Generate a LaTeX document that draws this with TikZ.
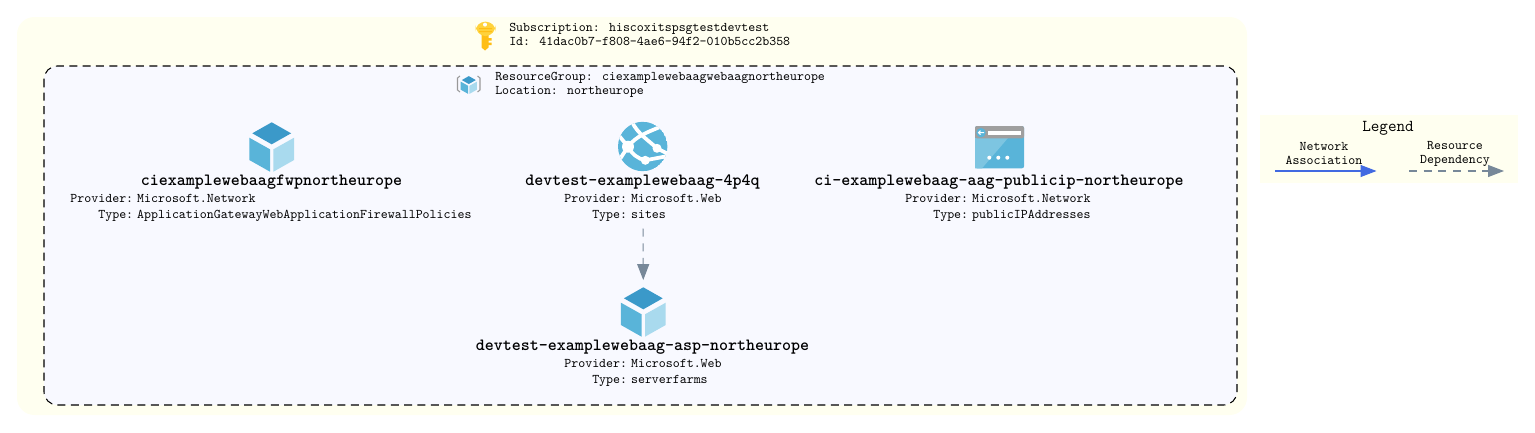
\documentclass[tikz,border=0pt]{standalone}
\usepackage{xcolor}
\usetikzlibrary{arrows.meta}
\definecolor{boxivory}{HTML}{FFFFF0}
\definecolor{boxghost}{HTML}{F8F9FF}
\definecolor{deepcube}{HTML}{3B99C9}
\definecolor{midcube}{HTML}{59B4D9}
\definecolor{palecube}{HTML}{A9DAEE}
\definecolor{assoc}{HTML}{4169E1}
\definecolor{depend}{HTML}{778899}
\definecolor{keyhead}{HTML}{FFD23C}
\definecolor{keyshaft}{HTML}{FFBE14}
\tikzset{
	plain/.style={font=\ttfamily\fontsize{9.95}{10.5}\selectfont,inner sep=0pt,align=left},
	resname/.style={font=\ttfamily\bfseries\fontsize{12.86}{14}\selectfont,inner sep=0pt},
	iconbox/.style={inner sep=0pt,minimum size=37.5pt},
	dependline/.style={depend,dashed,dash pattern=on 6pt off 5pt,line width=0.8pt,-{Triangle[length=12pt,width=9pt]}},
	assocline/.style={assoc,line width=0.8pt,-{Triangle[length=12pt,width=9pt]}},
}
\newcommand{\proptable}[2]{\renewcommand{\arraystretch}{1.143}\begin{tabular}{@{}r@{\hspace{3pt}}l@{}}Provider:&#1\\Type:&#2\end{tabular}}
\newcommand{\cubeicon}[3]{%
	\begin{scope}[shift={(#1,#2)},scale=#3]
		\fill[deepcube] (0,-24.7) -- (19.4,-13.7) -- (0,-2.7) -- (-19.4,-13.7) -- cycle;
		\fill[midcube] (-22.4,-9.3) -- (-1.7,2.3) -- (-1.7,24.7) -- (-22.4,13) -- cycle;
		\fill[palecube] (22.4,-9.3) -- (1.7,2.3) -- (1.7,24.7) -- (22.4,13) -- cycle;
	\end{scope}}
\begin{document}
\begin{tikzpicture}[x=0.75pt,y=-0.75pt]
		\useasboundingbox (0,0) rectangle (1535,432);
		% panels
		\fill[boxivory,rounded corners=13pt] (17,17) rectangle (1247,415);
		\draw[fill=boxghost,dashed,dash pattern=on 6pt off 4pt,line width=0.8pt,rounded corners=10pt] (44,66) rectangle (1237,405);
		\fill[boxivory] (1260,115) rectangle (1518,183);
		% key
		\fill[keyshaft] (481.5,30) -- (488.5,30) -- (488.5,47.5) -- (485,50.5) -- (481.5,47.5) -- cycle;
		\fill[keyshaft] (488,38) rectangle (491.5,40.5) (488,42.5) rectangle (491.5,45);
		\fill[keyhead,rounded corners=3pt] (475.5,27.5) -- (481,21.7) -- (490,21.7) -- (495.7,27.5) -- (495.7,29) -- (490,36) -- (481,36) -- (475.5,29) -- cycle;
		\fill[white] (485,24.6) circle [radius=2];
		\fill[keyshaft] (479,28) rectangle (492,29.2) (479,31) rectangle (492,32.2);
		\node[plain] (subscription) at (509,34.5) [anchor=west] {Subscription: hiscoxitspsgtestdevtest\\Id: 41dac0b7-f808-4ae6-94f2-010b5cc2b358};
		% resource group
		\draw[gray!80,line width=0.8pt] (460,76) -- (457.5,78) -- (457.5,90) -- (460,92) (477.5,76) -- (480,78) -- (480,90) -- (477.5,92);
		\cubeicon{468.8}{85}{0.36}
		\node[plain] (resgroup) at (495,84.5) [anchor=west] {ResourceGroup: ciexamplewebaagwebaagnortheurope\\Location: northeurope};
		% policies
		\cubeicon{271.7}{147}{1}
		\node[iconbox] (fwpicon) at (271.7,147) {};
		\node[resname] (fwpname) at (271.5,182) {ciexamplewebaagfwpnortheurope};
		\node[plain] (fwpinfo) at (271,207) {\proptable{Microsoft.Network}{ApplicationGatewayWebApplicationFirewallPolicies}};
		% site
		\begin{scope}
			\clip (642.7,146.5) circle [radius=24.7];
			\fill[midcube] (642.7,146.5) circle [radius=24.7];
			\draw[white,line width=2.8pt] (632,122) .. controls (638,134) and (648,140) .. (657,148.3) -- (670,155);
			\draw[white,line width=2.8pt] (628,146.7) .. controls (636,136) and (648,132) .. (660,127);
			\draw[white,line width=2.8pt] (616,132) -- (628,146.7) -- (618,162);
			\draw[white,line width=2.8pt] (628,146.7) .. controls (632,154) and (638,159) .. (645.3,160.3) -- (668,156);
			\fill[white] (628,146.7) circle [radius=6] (657,148.3) circle [radius=4.5] (645.3,160.3) circle [radius=4.5];
		\end{scope}
		\node[iconbox] (siteicon) at (642.7,146.5) {};
		\node[resname] (sitename) at (642.5,182) {devtest-examplewebaag-4p4q};
		\node[plain] (siteinfo) at (643,207) {\proptable{Microsoft.Web}{sites}};
		% public ip
		\fill[midcube,rounded corners=1.5pt] (975,126) rectangle (1024,168.3);
		\fill[midcube!78!white] (975,138) -- (1008,138) -- (982,168.3) -- (975,168.3) -- cycle;
		\fill[gray!75,rounded corners=1.5pt] (975,126) -- (1024,126) -- (1024,138.3) -- (975,138.3) -- cycle;
		\fill[white] (987.5,130.7) rectangle (1020.7,134.7);
		\fill[midcube] (981,132.7) circle [radius=4.7];
		\draw[white,line width=0.8pt] (984,132.7) -- (978.5,132.7) (980.5,130.7) -- (978.5,132.7) -- (980.5,134.7);
		\fill[white] (989.3,157.7) circle [radius=2] (998.3,157.7) circle [radius=2] (1007.3,157.7) circle [radius=2];
		\node[iconbox] (ipicon) at (999.5,147) {};
		\node[resname] (ipname) at (999,182) {ci-examplewebaag-aag-publicip-northeurope};
		\node[plain] (ipinfo) at (998,207) {\proptable{Microsoft.Network}{publicIPAddresses}};
		% plan
		\cubeicon{643.3}{312}{1}
		\node[iconbox] (planicon) at (643.3,312) {};
		\node[resname] (planname) at (642.5,347) {devtest-examplewebaag-asp-northeurope};
		\node[plain] (planinfo) at (643,372) {\proptable{Microsoft.Web}{serverfarms}};
		\draw[dependline,shorten <=4pt,shorten >=5pt] (siteinfo.south) -- (planicon.north);
		% legend
		\node[plain,font=\ttfamily\fontsize{12.5}{14}\selectfont] (legendtitle) at (1388,128) {Legend};
		\node[plain,align=center] (assoclabel) at (1324,153.5) {Network\\Association};
		\node[plain,align=center] (dependlabel) at (1455,153.5) {Resource\\Dependency};
		\coordinate (assocfrom) at (1275,171);
		\coordinate (assocto) at (1376.5,171);
		\coordinate (dependfrom) at (1409,171);
		\coordinate (dependto) at (1504,171);
		\draw[assocline] (assocfrom) -- (assocto);
		\draw[dependline] (dependfrom) -- (dependto);
		\end{tikzpicture}
\end{document}
